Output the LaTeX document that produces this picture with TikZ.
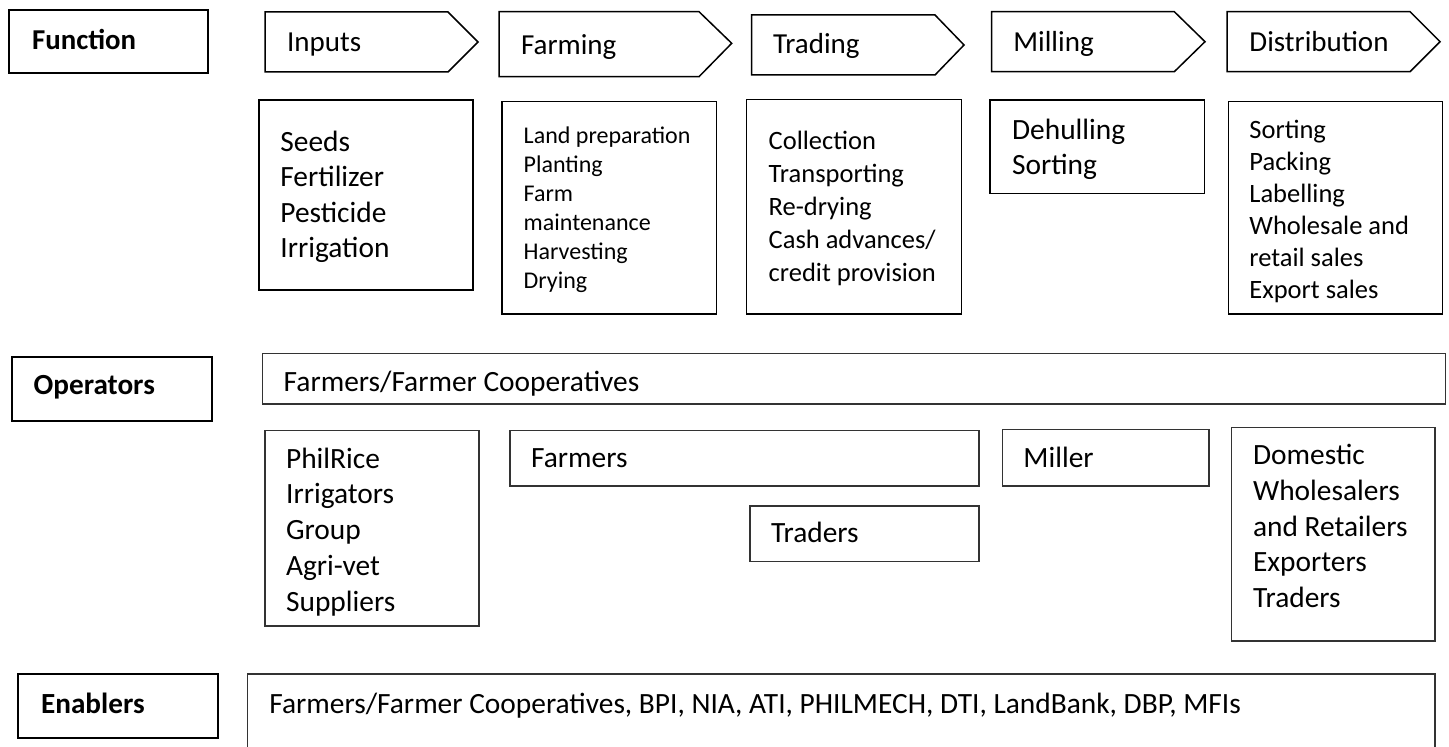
\documentclass[tikz,border=0pt]{standalone}
\usepackage{fontspec}
\setmainfont{Carlito}
\newcommand{\fs}[2]{\fontsize{#1}{#2}\selectfont}

\begin{document}
\begin{tikzpicture}[x=0.5pt,y=-0.5pt,
	lbl/.style={draw,line width=1pt},
	fbox/.style={draw,line width=0.75pt},
	obox/.style={draw=black!80,line width=0.55pt},
	txt/.style={anchor=base west,inner sep=0pt,align=left}]
	\useasboundingbox (0,0) rectangle (1449,747);
	% row labels
	\draw[lbl] (9,10) rectangle (208,73);
	\node[txt,font=\fs{14.4}{17}\bfseries] (function) at (31.7,49.3) {Function};
	\draw[lbl] (12,356.7) rectangle (212,421);
	\node[txt,font=\fs{14.6}{17}\bfseries] (operators) at (33.3,395) {Operators};
	\draw[lbl] (18,674) rectangle (218,738);
	\node[txt,font=\fs{14.6}{17}\bfseries] (enablers) at (40.7,713) {Enablers};
	% value chain steps
	\draw[fbox] (265,12) -- (448,12) -- (478,42) -- (448,72) -- (265,72) -- cycle;
	\node[txt,font=\fs{14.5}{17.5}] (inputs) at (286.7,52) {Inputs};
	\draw[fbox] (499,11.7) -- (699,11.7) -- (731.7,43.3) -- (699,76.7) -- (499,76.7) -- cycle;
	\node[txt,font=\fs{14.5}{17.5}] (farming) at (520.7,54.3) {Farming};
	\draw[fbox] (751.7,15) -- (935,15) -- (964,45) -- (935,75) -- (751.7,75) -- cycle;
	\node[txt,font=\fs{14.5}{17.5}] (trading) at (772.7,54) {Trading};
	\draw[fbox] (991.7,11.7) -- (1174.3,11.7) -- (1205,41.7) -- (1174.3,71.7) -- (991.7,71.7) -- cycle;
	\node[txt,font=\fs{14.5}{17.5}] (milling) at (1013,51.7) {Milling};
	\draw[fbox] (1227,11.7) -- (1410,11.7) -- (1440,41.7) -- (1410,71.7) -- (1227,71.7) -- cycle;
	\node[txt,font=\fs{14.5}{17.5}] (distribution) at (1249,51.7) {Distribution};
	% activities (multi-line texts sit on their last baseline)
	\draw[fbox] (259,100) rectangle (473,290);
	\node[txt,font=\fs{14.7}{17.75}] (inputlist) at (280,258)
		{Seeds\\Fertilizer\\Pesticide\\Irrigation};
	\draw[fbox] (502,101.7) rectangle (716.7,314);
	\node[txt,font=\fs{12}{14.5}] (farmlist) at (523.3,288.3)
		{Land preparation\\Planting\\Farm\\maintenance\\Harvesting\\Drying};
	\draw[fbox] (746.7,99.3) rectangle (961.7,314);
	\node[txt,font=\fs{13.25}{16.5}] (tradelist) at (768.3,282)
		{Collection\\Transporting\\Re-drying\\Cash advances/\\credit provision};
	\draw[fbox] (990,100) rectangle (1204.3,193.3);
	\node[txt,font=\fs{14.7}{17.5}] (milllist) at (1011.7,175)
		{Dehulling\\Sorting};
	\draw[fbox] (1228.7,101.7) rectangle (1442.7,314);
	\node[txt,font=\fs{13.25}{16}] (distlist) at (1249,298.3)
		{Sorting\\Packing\\Labelling\\Wholesale and\\retail sales\\Export sales};
	% operators
	\draw[obox] (262.7,353.3) rectangle (1445.7,404);
	\node[txt,font=\fs{14.7}{17.75}] (coops) at (283.3,391.7) {Farmers/Farmer Cooperatives};
	\draw[obox] (265,430.7) rectangle (479,626);
	\node[txt,font=\fs{14.7}{17.85}] (suppliers) at (285.7,611)
		{PhilRice\\Irrigators\\Group\\Agri-vet\\Suppliers};
	\draw[obox] (510,430.7) rectangle (979,486);
	\node[txt,font=\fs{14.7}{17.5}] (farmers) at (530.7,468) {Farmers};
	\draw[obox] (750,506) rectangle (979,561.7);
	\node[txt,font=\fs{14.7}{17.5}] (traders) at (770.7,543) {Traders};
	\draw[obox] (1002.7,429.3) rectangle (1209,486);
	\node[txt,font=\fs{14.7}{17.5}] (miller) at (1023,468) {Miller};
	\draw[obox] (1231.7,427.3) rectangle (1435,641);
	\node[txt,font=\fs{14.7}{17.75}] (sellers) at (1252.7,607)
		{Domestic\\Wholesalers\\and Retailers\\Exporters\\Traders};
	% enablers
	\draw[obox] (247.7,747) -- (247.7,674) -- (1435,674) -- (1435,747);
	\node[txt,font=\fs{14.7}{17.5}] (agencies) at (269,713)
		{Farmers/Farmer Cooperatives, BPI, NIA, ATI, PHILMECH, DTI, LandBank, DBP, MFIs};
\end{tikzpicture}
\end{document}
